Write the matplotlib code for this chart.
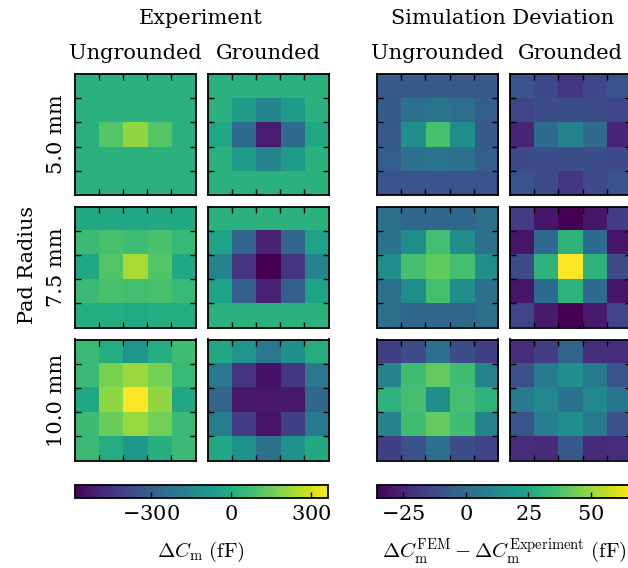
import numpy as np
import matplotlib
matplotlib.use("Agg")
import matplotlib.pyplot as plt

plt.rcParams['font.family'] = ['DejaVu Serif']
plt.rcParams['mathtext.fontset'] = 'cm'
plt.rcParams['axes.formatter.use_mathtext'] = True

# ---------------- data (fF) ----------------
exp_ungrounded_5 = [
    [20, 20, 20, 20, 20],
    [20, 20, 20, 20, 20],
    [15, 110, 205, 110, 15],
    [20, 20, 20, 20, 20],
    [20, 20, 20, 20, 20],
]
exp_grounded_5 = [
    [20, 20, 20, 20, 20],
    [20, -64, -158, -64, 20],
    [-17, -253, -508, -253, -17],
    [20, -64, -158, -64, 20],
    [20, 20, 20, 20, 20],
]
exp_ungrounded_7p5 = [
    [-10, -12, -15, -12, -10],
    [59, 88, 69, 90, 50],
    [-17, 107, 240, 107, -17],
    [59, 88, 75, 88, 55],
    [0, 0, -5, 0, 0],
]
exp_grounded_7p5 = [
    [20, 20, 20, 20, 20],
    [-35, -272, -489, -272, -35],
    [-158, -442, -584, -442, -158],
    [-35, -300, -489, -300, -35],
    [20, 20, 20, 20, 20],
]
exp_ungrounded_10 = [
    [59, 0, -83, 0, 70],
    [59, 173, 220, 163, 55],
    [-17, 201, 362, 205, -17],
    [65, 145, 215, 160, 59],
    [60, 0, -80, 10, 65],
]
exp_grounded_10 = [
    [-17, -92, -206, -111, 0],
    [-206, -442, -537, -433, -206],
    [-272, -518, -518, -518, -272],
    [-187, -414, -532, -404, -190],
    [-17, -100, -234, -100, -10],
]

sim_ungrounded_5 = [
    [-7, -7, -7, -7, -7],
    [-6, 2, 4, 1, -5],
    [-7, 15, 36.6, 15, -7],
    [-5, 2, 4, 2, -5],
    [-9, -9, -9, -9, -9],
]
sim_grounded_5 = [
    [-9, -13, -19, -13, -9],
    [-14, -11, -11, -11, -14],
    [-25, 0, 10, 0, -25],
    [-13, -11, -11, -11, -13],
    [-9, -12, -19, -12, -9],
]
sim_ungrounded_7p5 = [
    [2, -1, -1, -1, 2],
    [2.5, 15, 35.6, 15, 2],
    [15, 36, 40.7, 36, 15],
    [2, 15, 36, 15, 2],
    [2, -1, -2, -1, 2],
]
sim_grounded_7p5 = [
    [-17, -29, -35.3, -29, -17],
    [-29, 0, 30, 0, -29],
    [-12, 30, 66, 30, -12],
    [-29, 0, 30, 0, -29],
    [-14, -28, -35, -28, -14],
]
sim_ungrounded_10 = [
    [-16, -11, 2, -11, -16],
    [10, 35, 41.7, 35, 10],
    [30, 36, 15, 36, 30],
    [10, 35, 41.7, 35, 10],
    [-16, -10, 2, -11, -15],
]
sim_grounded_10 = [
    [-22, -17, -3, -22, -22],
    [-10, 7, 15, 7, -9],
    [7, 12, 3, 12, 4],
    [-9, 8, 15, 7, -10],
    [-22, -23, -7, -23, -22],
]

row_labels = ["5.0 mm", "7.5 mm", "10.0 mm"]
col_labels = ["Ungrounded", "Grounded", "Ungrounded", "Grounded"]
group_titles = ["Experiment", "Simulation Deviation"]
exp_ticks = [-300, 0, 300]
sim_ticks = [-25, 0, 25, 50]

exp_data = [[exp_ungrounded_5, exp_grounded_5],
            [exp_ungrounded_7p5, exp_grounded_7p5],
            [exp_ungrounded_10, exp_grounded_10]]
sim_data = [[sim_ungrounded_5, sim_grounded_5],
            [sim_ungrounded_7p5, sim_grounded_7p5],
            [sim_ungrounded_10, sim_grounded_10]]

exp_vmin = min(np.min(d) for r in exp_data for d in r)
exp_vmax = max(np.max(d) for r in exp_data for d in r)
sim_vmin = min(np.min(d) for r in sim_data for d in r)
sim_vmax = max(np.max(d) for r in sim_data for d in r)

# ---------------- layout (pixels) ----------------
W, H = 628, 568
fig = plt.figure(figsize=(W / 100, H / 100), dpi=100)

def px_axes(x0, y0, w, h):
    return fig.add_axes([x0 / W, 1 - (y0 + h) / H, w / W, h / H])

col_x = [74.5, 207.5, 377, 510]
row_y = [74, 206.5, 339.5]
size = 121
FS = 15

for r in range(3):
    for c in range(4):
        ax = px_axes(col_x[c], row_y[r], size, size)
        if c < 2:
            data = exp_data[r][c]
            im_kw = dict(vmin=exp_vmin, vmax=exp_vmax)
        else:
            data = sim_data[r][c - 2]
            im_kw = dict(vmin=sim_vmin, vmax=sim_vmax)
        im = ax.imshow(np.array(data, dtype=float), cmap='viridis',
                       interpolation='nearest', aspect='auto', **im_kw)
        if c == 0:
            im_exp = im
        if c == 2:
            im_sim = im
        ax.set_xticks([0.5, 1.5, 2.5, 3.5])
        ax.set_yticks([0.5, 1.5, 2.5, 3.5])
        ax.tick_params(direction='in', top=True, right=True, length=4,
                       width=1, labelbottom=False, labelleft=False)
        for s in ax.spines.values():
            s.set_linewidth(1.3)

# titles
def ftext(x, y, s, **kw):
    fig.text(x / W, 1 - y / H, s, **kw)

ftext(201, 24, group_titles[0], ha='center', va='baseline', fontsize=FS)
ftext(503, 24, group_titles[1], ha='center', va='baseline', fontsize=FS)
for c in range(4):
    ftext(col_x[c] + size / 2, 59, col_labels[c], ha='center', va='baseline', fontsize=FS)
for r in range(3):
    fig.text(62 / W, 1 - (row_y[r] + size / 2) / H, row_labels[r], rotation=90,
             rotation_mode='anchor', ha='center', va='baseline', fontsize=FS)
fig.text(33 / W, 1 - 265 / H, "Pad Radius", rotation=90,
         rotation_mode='anchor', ha='center', va='baseline', fontsize=FS)

# colorbars
cax1 = px_axes(74.5, 485, 253.5, 12.7)
cb1 = fig.colorbar(im_exp, cax=cax1, orientation='horizontal', ticks=exp_ticks)
cax2 = px_axes(377, 485, 254, 12.7)
cb2 = fig.colorbar(im_sim, cax=cax2, orientation='horizontal', ticks=sim_ticks)
for cb in (cb1, cb2):
    cb.ax.tick_params(direction='in', length=4, width=1, labelsize=15, pad=5)
    cb.outline.set_linewidth(1.3)

ftext(201, 557, r"$\Delta C_\mathrm{m}\ \mathrm{(fF)}$", ha='center', va='baseline', fontsize=15)
ftext(504, 557, r"$\Delta C_\mathrm{m}^\mathrm{FEM} - \Delta C_\mathrm{m}^\mathrm{Experiment}\ \mathrm{(fF)}$",
      ha='center', va='baseline', fontsize=15)

fig.savefig("out.png", dpi=100)
